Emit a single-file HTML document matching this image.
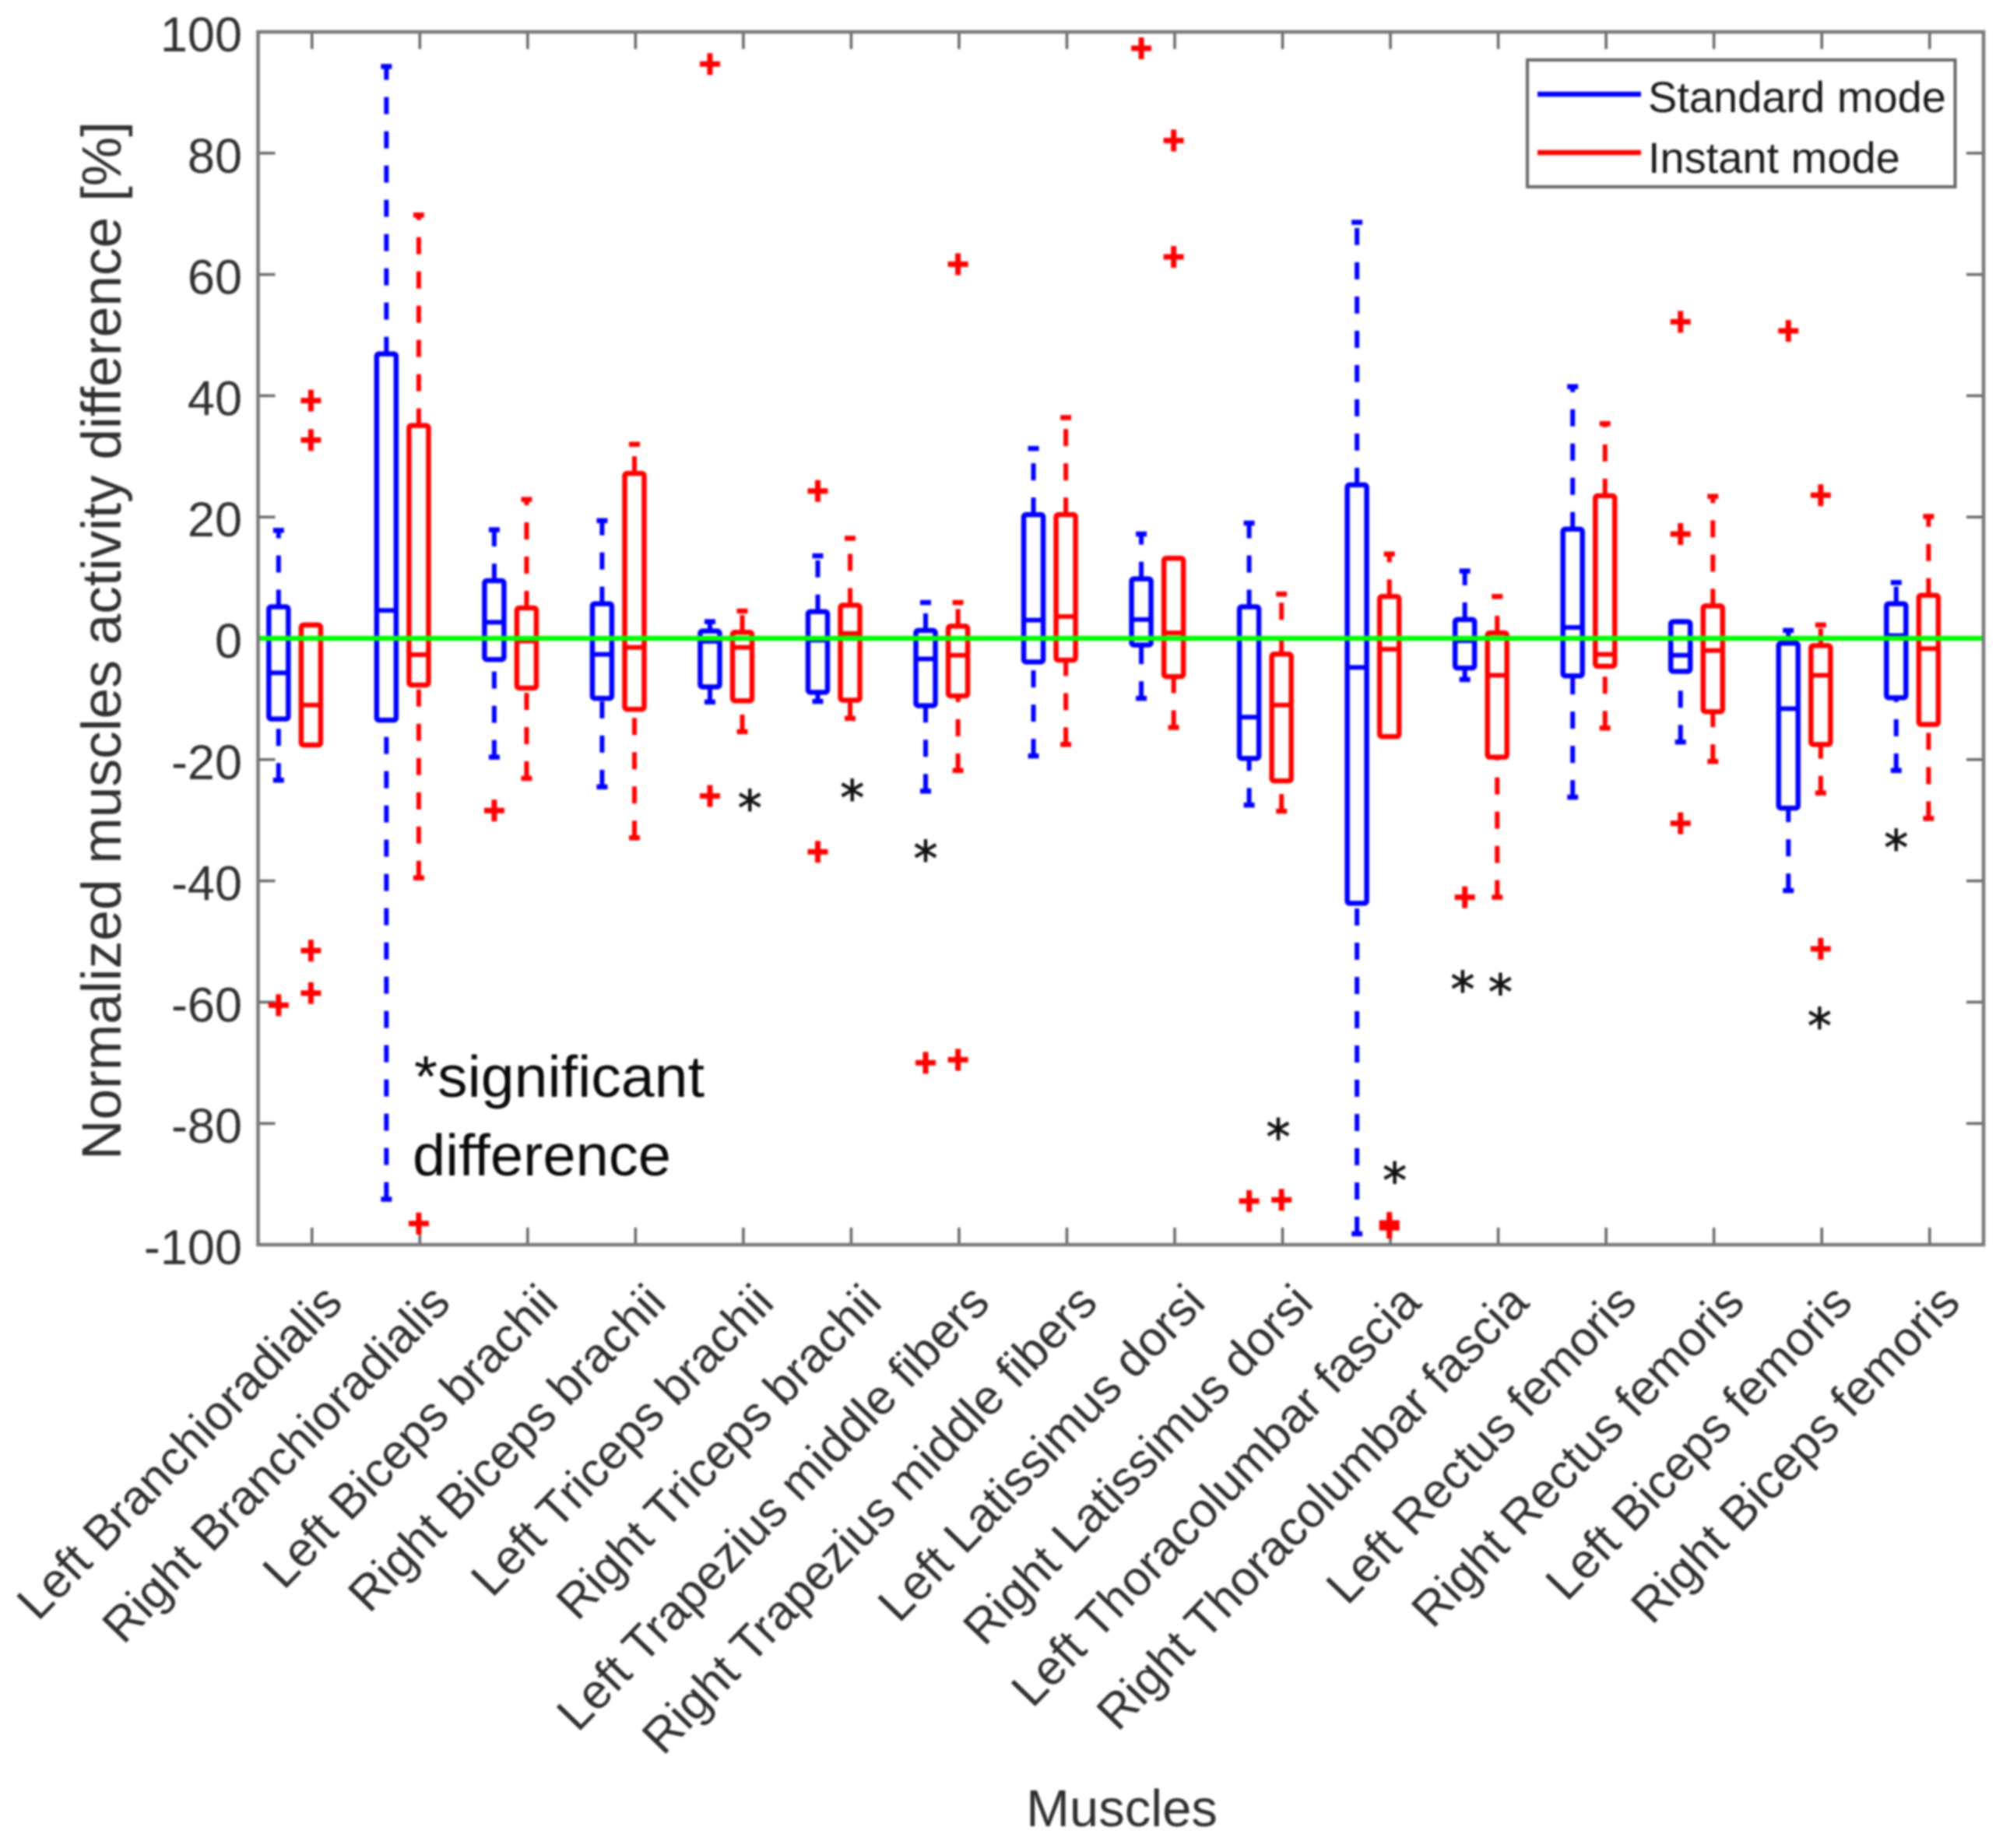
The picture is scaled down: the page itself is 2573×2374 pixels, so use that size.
<!DOCTYPE html>
<html lang="en">
<head>
<meta charset="utf-8">
<title>Normalized muscles activity difference</title>
<style>
html,body{margin:0;padding:0;background:#fff;width:2573px;height:2374px;overflow:hidden}
svg{display:block;filter:blur(1.2px)}
text{font-family:"Liberation Sans",Arial,sans-serif}
</style>
</head>
<body>
<svg id="chart" xmlns="http://www.w3.org/2000/svg" width="2573" height="2374" viewBox="0 0 2573 2374">
  <rect x="0" y="0" width="2573" height="2374" fill="#fff"/>
  <g id="ticks"></g>
  <g id="marks"></g>
  <g id="outliers"></g>
  <g id="labels"></g>
  <g id="stars"></g>
  <rect x="331.5" y="41" width="2216.5" height="1558" fill="none" stroke="#777" stroke-width="4.5"/>
  <text transform="translate(155,823) rotate(-90)" text-anchor="middle" font-size="71.3" fill="#303030">Normalized muscles activity difference [%]</text>
  <text x="1441" y="2346" text-anchor="middle" font-size="67" fill="#303030">Muscles</text>
  <text x="532" y="1409" font-size="75" fill="#0a0a0a" textLength="373" lengthAdjust="spacingAndGlyphs">*significant</text>
  <text x="530" y="1510" font-size="75" fill="#0a0a0a" textLength="332" lengthAdjust="spacingAndGlyphs">difference</text>
  <g>
    <rect x="1962" y="77" width="549.5" height="163" fill="#fff" stroke="#666" stroke-width="4"/>
    <line x1="1975" y1="121" x2="2108" y2="121" stroke="#0000ff" stroke-width="6.5"/>
    <text x="2117" y="144" font-size="56" fill="#1a1a1a">Standard mode</text>
    <line x1="1975" y1="196" x2="2108" y2="196" stroke="#ff0000" stroke-width="6.5"/>
    <text x="2117" y="222" font-size="56" fill="#1a1a1a">Instant mode</text>
  </g>
</svg>
<script>
// Chart data (percent difference)
const categories = ["Left Branchioradialis","Right Branchioradialis","Left Biceps brachii","Right Biceps brachii","Left Triceps brachii","Right Triceps brachii","Left Trapezius middle fibers","Right Trapezius middle fibers","Left Latissimus dorsi","Right Latissimus dorsi","Left Thoracolumbar fascia","Right Thoracolumbar fascia","Left Rectus femoris","Right Rectus femoris","Left Biceps femoris","Right Biceps femoris"];
const yTickValues = [100,80,60,40,20,0,-20,-40,-60,-80,-100];

const standardHigh   = [17.8,94.3,17.9,19.4,2.75,13.6,5.9,31.3,17.2,19,68.6,11.1,41.5,2.75,1.3,9.2];
const standardQ3     = [5.2,46.9,9.5,5.7,1.2,4.4,1.3,20.4,9.8,5.2,25.3,3.1,18,2.75,-0.8,5.7];
const standardMedian = [-5.7,4.6,2.65,-2.65,-0.5,-0.3,-3.4,3,3.1,-13,-4.8,-0.4,1.8,-2.8,-11.6,0.45];
const standardQ1     = [-13.3,-13.5,-3.5,-9.9,-8,-8.9,-11.1,-3.9,-1.1,-19.8,-43.7,-4.9,-6.2,-5.45,-28,-9.8];
const standardLow    = [-23.4,-92.5,-19.6,-24.5,-10.5,-10.4,-25.2,-19.4,-9.9,-27.5,-98.2,-6.8,-26.2,-17.1,-41.6,-21.8];

const instantHigh    = [2.2,69.8,22.9,32,4.5,16.5,5.9,36.4,13.2,7.3,13.9,6.9,35.4,23.4,2.2,20.1];
const instantQ3      = [2.2,35.1,5,27.2,1,5.45,2,20.4,13.2,-2.6,6.9,0.9,23.5,5.35,-1.2,7.1];
const instantMedian  = [-11,-2.7,-0.45,-1.5,-1.5,0.8,-2.8,3.6,0.9,-11,-1.8,-6.1,-2.65,-2,-6.1,-1.7];
const instantQ1      = [-17.6,-7.7,-8.2,-11.7,-10.3,-10.2,-9.5,-3.6,-6.3,-23.5,-16.2,-19.6,-4.6,-12.1,-17.5,-14.2];
const instantLow     = [-17.6,-39.5,-23.1,-32.9,-15.4,-13.2,-21.8,-17.5,-14.7,-28.5,-16.2,-42.7,-14.8,-20.3,-25.5,-29.7];

const standardOutliers = [[-60.5],[],[-28.4],[],[94.7,-26],[24.3,-35.2],[-70],[],[97.3],[-92.8],[],[-42.7],[],[52.2,17.2,-30.5],[50.7],[]];
const instantOutliers  = [[39.2,32.7,-51.5,-58.5],[-96.5],[],[],[],[],[61.7,-69.5],[],[82.1,62.9],[-92.6],[-96.4,-97.2],[],[],[],[23.6,-51.2],[]];

const starCategory = [4.06,5.01,5.69,8.96,10.04,10.67,11.02,13.98,14.69];
const starValue    = [-26.6,-24.9,-34.9,-80.8,-88,-56.5,-56.9,-62.5,-33.1];

// Axis functions
const axisLeft = 331.5, axisRight = 2548, axisTop = 41, axisBottom = 1599;
function xScale(c){ return axisLeft + (c + 0.5) * (axisRight - axisLeft) / categories.length; }
function yScale(v){ return axisBottom - (v + 100) * (axisBottom - axisTop) / 200; }

const NS = "http://www.w3.org/2000/svg";
function mk(tag, attrs, parent){
  const el = document.createElementNS(NS, tag);
  for (const k in attrs) el.setAttribute(k, attrs[k]);
  parent.appendChild(el);
  return el;
}
const gTicks = document.getElementById("ticks");
const gMarks = document.getElementById("marks");
const gOut = document.getElementById("outliers");
const gLabels = document.getElementById("labels");
const gStars = document.getElementById("stars");

// Ticks and tick labels
yTickValues.forEach(function(v){
  const y = yScale(v);
  const left = mk("line", {x1:axisLeft, x2:axisLeft+22, y1:y, y2:y, stroke:"#666", "stroke-width":3.5}, gTicks);
  
  
  const right = mk("line", {x1:axisRight-22, x2:axisRight, y1:y, y2:y, stroke:"#666", "stroke-width":3.5}, gTicks);
  
  
  const lab = mk("text", {x:311, y:y+25, "text-anchor":"end", "font-size":63, fill:"#303030"}, gLabels);
  lab.textContent = String(v);
  
  
});
categories.forEach(function(name, i){
  const x = xScale(i);
  const bottom = mk("line", {x1:x, x2:x, y1:axisBottom-22, y2:axisBottom, stroke:"#666", "stroke-width":3.5}, gTicks);
  
  
  const top = mk("line", {x1:x, x2:x, y1:axisTop, y2:axisTop+22, stroke:"#666", "stroke-width":3.5}, gTicks);
  
  
  const lab = mk("text", {transform:"translate("+(x+42)+",1676) rotate(-46)", "text-anchor":"end", "font-size":62.6, fill:"#303030"}, gLabels);
  lab.textContent = name;
  
  
});

// Box plots
const boxHalf = 12.5, capHalf = 7;
function drawBox(cx, color, hi, q3, med, q1, lo, key){
  const g = mk("g", {}, gMarks);
  
  
  const upper = mk("line", {x1:cx, x2:cx, y1:yScale(q3), y2:yScale(hi), stroke:color, "stroke-width":6, "stroke-dasharray":"22 22"}, g);
  
  
  const lower = mk("line", {x1:cx, x2:cx, y1:yScale(lo), y2:yScale(q1), stroke:color, "stroke-width":6, "stroke-dasharray":"22 22"}, g);
  
  
  const capHi = mk("line", {x1:cx-capHalf, x2:cx+capHalf, y1:yScale(hi), y2:yScale(hi), stroke:color, "stroke-width":6.5}, g);
  
  
  const capLo = mk("line", {x1:cx-capHalf, x2:cx+capHalf, y1:yScale(lo), y2:yScale(lo), stroke:color, "stroke-width":6.5}, g);
  
  
  const box = mk("rect", {x:cx-boxHalf, y:yScale(q3), width:boxHalf*2, height:yScale(q1)-yScale(q3), rx:3, fill:"none", stroke:color, "stroke-width":6.5}, g);
  
  
  const m = mk("line", {x1:cx-boxHalf, x2:cx+boxHalf, y1:yScale(med), y2:yScale(med), stroke:color, "stroke-width":6}, g);
  
  
}
function drawPlus(cx, v){
  const y = yScale(v);
  const g = mk("g", {}, gOut);
  
  
  mk("line", {x1:cx-13, x2:cx+13, y1:y, y2:y, stroke:"#ff0000", "stroke-width":7}, g);
  mk("line", {x1:cx, x2:cx, y1:y-14, y2:y+14, stroke:"#ff0000", "stroke-width":7}, g);
}
categories.forEach(function(name, i){
  const xBlue = xScale(i - 0.31), xRed = xScale(i - 0.01);
  drawBox(xBlue, "#0000ff", standardHigh[i], standardQ3[i], standardMedian[i], standardQ1[i], standardLow[i], "standard-box-" + (i+1));
  drawBox(xRed, "#ff0000", instantHigh[i], instantQ3[i], instantMedian[i], instantQ1[i], instantLow[i], "instant-box-" + (i+1));
  standardOutliers[i].forEach(function(v){ drawPlus(xBlue, v); });
  instantOutliers[i].forEach(function(v){ drawPlus(xRed, v); });
});

// Zero reference line
const zero = mk("line", {x1:axisLeft, x2:axisRight, y1:yScale(0), y2:yScale(0), stroke:"#00ff00", "stroke-width":6.5}, gMarks);



// Significance asterisks
starCategory.forEach(function(c, i){
  const t = mk("text", {x:xScale(c), y:yScale(starValue[i])+33, "text-anchor":"middle", "font-size":62, fill:"#111", stroke:"#111", "stroke-width":1, style:"font-family:'DejaVu Sans',sans-serif"}, gStars);
  t.textContent = "*";
  
  
});
</script>
</body>
</html>
